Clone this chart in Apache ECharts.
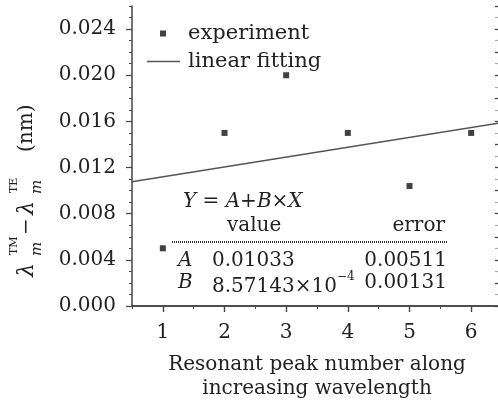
<!DOCTYPE html>
<html>
<head>
<meta charset="utf-8">
<script src="https://cdn.jsdelivr.net/npm/echarts@6/dist/echarts.min.js"></script>
<style>
  html, body { margin: 0; padding: 0; background: #fff; }
  #main { width: 498px; height: 400px; }
</style>
</head>
<body>
<div id="main"></div>
<script type="text/javascript">
// data
var peakNo = [1, 2, 3, 4, 5, 6];
var deltaLambda = [0.005, 0.015, 0.020, 0.015, 0.0104, 0.015];
// fitted line Y = A + B*X, end points over the axis range
var fitX = [0.5, 6.5];
var fitY = [0.01076, 0.01590];
var xTickValues = [1, 2, 3, 4, 5, 6];
// fit table
var fitParams = ['A', 'B'];
var fitValues = ['0.01033', '8.57143×10'];
var fitErrors = ['0.00511', '0.00131'];

var FONT = 'DejaVu Serif';
var TXT = '#222';
var AX = '#444';

var chart = echarts.init(document.getElementById('main'));

function axisBase(pos) {
  return {
    type: 'value', position: pos, min: 0.5, max: 6.5, gridIndex: 0,
    splitLine: { show: false },
    axisLine: { show: false, lineStyle: { color: AX, width: 1.5 } },
    axisTick: { show: false },
    axisLabel: { show: false }
  };
}

var xBottomMinor = axisBase('bottom');
xBottomMinor.interval = 1;   // ticks at 0.5, 1.5 ...
xBottomMinor.axisLine.show = true;
xBottomMinor.axisTick = { show: true, length: 3, lineStyle: { color: AX, width: 1 } };

var xBottomMajor = axisBase('bottom');
xBottomMajor.axisTick = { show: true, length: 6, customValues: xTickValues, lineStyle: { color: AX, width: 1.2 } };
xBottomMajor.axisLabel = {
  show: true, customValues: xTickValues, margin: 17,
  fontFamily: FONT, fontSize: 20, color: TXT
};
xBottomMajor.name = 'Resonant peak number along\nincreasing wavelength';
xBottomMajor.nameLocation = 'middle';
xBottomMajor.nameGap = 47;
xBottomMajor.nameTextStyle = { fontFamily: FONT, fontSize: 20, color: TXT, lineHeight: 24 };

var xTopMinor = axisBase('top');
xTopMinor.interval = 1;
xTopMinor.axisLine.show = true;
xTopMinor.axisTick = { show: true, inside: true, length: 3, lineStyle: { color: AX, width: 1 } };

var xTopMajor = axisBase('top');
xTopMajor.axisTick = { show: true, inside: true, length: 6, customValues: xTickValues, lineStyle: { color: AX, width: 1.2 } };

function rightAxis(step, color, showLine) {
  return {
    type: 'value', position: 'right', min: 0, max: 0.026, interval: step,
    splitLine: { show: false },
    axisLine: { show: showLine, lineStyle: { color: AX, width: 1.5 } },
    axisTick: { show: true, inside: true, length: 7, lineStyle: { color: color, width: 1.2 } },
    axisLabel: { show: false }
  };
}

var option = {
  animation: false,
  backgroundColor: '#fff',
  grid: { left: 132, top: 6, width: 370, height: 300, containLabel: false, outerBoundsMode: 'none' },
  legend: [
    {
      data: ['experiment'], left: 160, top: 23, padding: 0,
      itemWidth: 6, itemHeight: 6, icon: 'rect',
      textStyle: { fontFamily: FONT, fontSize: 21, color: TXT, padding: [0, 0, 0, 17] }
    },
    {
      data: ['linear fitting'], left: 147, top: 51, padding: 0,
      itemWidth: 33, itemHeight: 1.5, icon: 'rect',
      textStyle: { fontFamily: FONT, fontSize: 21, color: TXT, padding: [0, 0, 0, 3] }
    }
  ],
  xAxis: [xBottomMinor, xBottomMajor, xTopMinor, xTopMajor],
  yAxis: [
    {
      type: 'value', position: 'left', min: 0, max: 0.026, interval: 0.004,
      splitLine: { show: false },
      axisLine: { show: true, lineStyle: { color: AX, width: 1.5 } },
      axisTick: { show: true, length: 6, lineStyle: { color: AX, width: 1.2 } },
      axisLabel: {
        margin: 16, fontFamily: FONT, fontSize: 20, color: TXT, showMaxLabel: false,
        formatter: function (v) { return v > 0.025 ? '' : v.toFixed(3); }
      }
    },
    {
      type: 'value', position: 'left', min: 0, max: 0.026, interval: 0.001,
      splitLine: { show: false },
      axisLine: { show: false },
      axisTick: { show: true, length: 3, lineStyle: { color: AX, width: 1 } },
      axisLabel: { show: false }
    },
    rightAxis(0.001, '#aaa', true),
    rightAxis(0.002, '#444', false)
  ],
  series: [
    {
      name: 'linear fitting', type: 'line', xAxisIndex: 0, yAxisIndex: 0,
      data: fitX.map(function (x, i) { return [x, fitY[i]]; }),
      symbol: 'none', showSymbol: false,
      lineStyle: { color: '#555', width: 1.5 }, itemStyle: { color: '#555' },
      z: 2
    },
    {
      name: 'experiment', type: 'scatter', xAxisIndex: 0, yAxisIndex: 0,
      data: peakNo.map(function (x, i) { return [x, deltaLambda[i]]; }),
      symbol: 'rect', symbolSize: 6,
      itemStyle: { color: '#111' },
      z: 3
    }
  ],
  graphic: [
    // y axis title, rotated
    {
      type: 'group', x: 27, y: 277, rotation: Math.PI / 2,
      children: [
        { type: 'text', style: { text: 'λ', x: 0, y: 0, font: 'italic 22px ' + FONT, fill: TXT, textVerticalAlign: 'middle' } },
        { type: 'text', style: { text: 'TM', x: 22, y: -13, font: '11px ' + FONT, fill: TXT, textVerticalAlign: 'middle' } },
        { type: 'text', style: { text: 'm', x: 21, y: 10, font: 'italic 15px ' + FONT, fill: TXT, textVerticalAlign: 'middle' } },
        { type: 'text', style: { text: '−', x: 42, y: 0, font: '20px ' + FONT, fill: TXT, textVerticalAlign: 'middle' } },
        { type: 'text', style: { text: 'λ', x: 62, y: 0, font: 'italic 22px ' + FONT, fill: TXT, textVerticalAlign: 'middle' } },
        { type: 'text', style: { text: 'TE', x: 84, y: -13, font: '11px ' + FONT, fill: TXT, textVerticalAlign: 'middle' } },
        { type: 'text', style: { text: 'm', x: 83, y: 10, font: 'italic 15px ' + FONT, fill: TXT, textVerticalAlign: 'middle' } },
        { type: 'text', style: { text: '(nm)', x: 125, y: 0, font: '20px ' + FONT, fill: TXT, textVerticalAlign: 'middle' } }
      ]
    },
    // fit equation box
    {
      type: 'text', left: 183, top: 192,
      style: {
        text: '{i|Y} = {i|A}+{i|B}×{i|X}',
        rich: {
          i: { fontFamily: FONT, fontStyle: 'italic', fontSize: 20, fill: TXT }
        },
        font: '20px ' + FONT, fill: TXT
      }
    },
    { type: 'text', left: 227, top: 216, style: { text: 'value', font: '20px ' + FONT, fill: TXT } },
    { type: 'text', right: 53, top: 216, style: { text: 'error', font: '20px ' + FONT, fill: TXT } },
    {
      type: 'line', shape: { x1: 172, y1: 242, x2: 447, y2: 242 },
      style: { stroke: '#333', lineWidth: 2, lineDash: [1, 1] }
    },
    { type: 'text', left: 178, top: 251, style: { text: fitParams[0], font: 'italic 20px ' + FONT, fill: TXT } },
    { type: 'text', left: 212, top: 251, style: { text: fitValues[0], font: '20px ' + FONT, fill: TXT } },
    { type: 'text', right: 51, top: 251, style: { text: fitErrors[0], font: '20px ' + FONT, fill: TXT } },
    { type: 'text', left: 178, top: 273, style: { text: fitParams[1], font: 'italic 20px ' + FONT, fill: TXT } },
    {
      type: 'text', left: 212, top: 271,
      style: {
        text: '{a|' + fitValues[1] + '}{s|−4}',
        rich: {
          a: { fontFamily: FONT, fontSize: 20, fill: TXT, lineHeight: 26, verticalAlign: 'bottom' },
          s: { fontFamily: FONT, fontSize: 12, fill: TXT, lineHeight: 26, verticalAlign: 'top' }
        }
      }
    },
    { type: 'text', right: 51, top: 273, style: { text: fitErrors[1], font: '20px ' + FONT, fill: TXT } }
  ]
};

chart.setOption(option);
</script>
</body>
</html>
